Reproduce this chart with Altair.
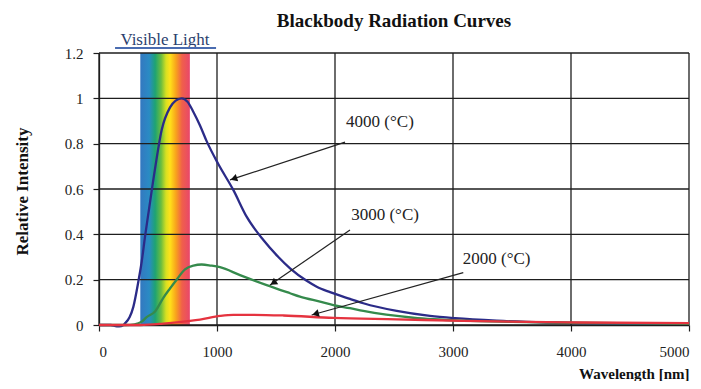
import math
import altair as alt
import pandas as pd

# ---- data ----
wl_4000 = [0, 100, 150, 190, 220, 260, 291, 333, 362, 390, 418, 475, 531, 602, 650, 701, 750, 800, 856, 913,
           1011, 1138, 1251, 1393, 1520, 1619, 1760, 1845, 1958, 2127, 2240, 2523, 2805, 3017, 3370, 3794, 4076,
           4500, 5000]
val_4000 = [0, 0, -0.006, -0.005, 0.007, 0.035, 0.08, 0.19, 0.28, 0.39, 0.49, 0.69, 0.86, 0.96, 0.99, 1.0, 0.985,
            0.94, 0.88, 0.81, 0.71, 0.596, 0.478, 0.375, 0.30, 0.25, 0.195, 0.169, 0.145, 0.115, 0.096, 0.062,
            0.04, 0.03, 0.019, 0.011, 0.008, 0.006, 0.005]

wl_3000 = [0, 220, 300, 362, 404, 475, 545, 600, 658, 729, 800, 870, 950, 1025, 1195, 1421, 1619, 1703, 1873,
           1986, 2127, 2240, 2663, 3087, 3500, 4000, 5000]
val_3000 = [0, 0, 0.003, 0.015, 0.035, 0.06, 0.12, 0.16, 0.2, 0.245, 0.262, 0.267, 0.262, 0.255, 0.22, 0.176,
            0.14, 0.125, 0.103, 0.088, 0.074, 0.062, 0.032, 0.019, 0.014, 0.01, 0.005]

wl_2000 = [0, 350, 545, 771, 856, 1025, 1138, 1300, 1562, 1986, 2523, 3087, 4076, 5000]
val_2000 = [0, 0, 0.006, 0.018, 0.024, 0.04, 0.045, 0.045, 0.042, 0.031, 0.025, 0.018, 0.011, 0.008]

series_names = ["4000 (°C)", "3000 (°C)", "2000 (°C)"]
series_colors = ["#2b2b88", "#358a4c", "#e5333f"]

# annotation: label position, arrow start, arrow end (data coords)
label_x = [2381, 2424, 3370]
label_y = [0.897, 0.485, 0.29]
arrow_x1 = [2085, 2127, 3087]
arrow_y1 = [0.807, 0.419, 0.231]
arrow_x2 = [1110, 1449, 1802]
arrow_y2 = [0.64, 0.176, 0.044]

visible_start, visible_end = 350, 770

x_ticks = [0, 1000, 2000, 3000, 4000, 5000]
y_ticks = [0, 0.2, 0.4, 0.6, 0.8, 1.0, 1.2]

W, H = 590, 272
XMAX, YMAX = 5000, 1.2
SERIF = "Liberation Serif"

# ---- tables ----
rows = []
for name, wls, vals in zip(series_names, [wl_4000, wl_3000, wl_2000], [val_4000, val_3000, val_2000]):
    for w, v in zip(wls, vals):
        rows.append({"series": name, "wl": w, "val": v})
curves = pd.DataFrame(rows)

px_x, px_y = W / XMAX, H / YMAX
ann_rows = []
for i, name in enumerate(series_names):
    dx = (arrow_x2[i] - arrow_x1[i]) * px_x
    dy = -(arrow_y2[i] - arrow_y1[i]) * px_y
    L = math.hypot(dx, dy)
    ux, uy = dx / L, dy / L
    ang = math.degrees(math.atan2(ux, -uy)) % 360
    back = 4.0
    hx = arrow_x2[i] - ux * back / px_x
    hy = arrow_y2[i] + uy * back / px_y
    ann_rows.append({"label": name, "lx": label_x[i], "ly": label_y[i],
                     "x1": arrow_x1[i], "y1": arrow_y1[i], "x2": arrow_x2[i], "y2": arrow_y2[i],
                     "hx": hx, "hy": hy, "ang": ang})
ann = pd.DataFrame(ann_rows)

xs = alt.Scale(domain=[0, XMAX], nice=False)
ys = alt.Scale(domain=[0, YMAX], nice=False)

spectrum = alt.Chart(pd.DataFrame({"a": [visible_start], "b": [visible_end], "y0": [0], "y1": [YMAX]})).mark_rect(
    color=alt.Gradient(
        gradient="linear",
        stops=[
            alt.GradientStop(color="#3478c0", offset=0.0),
            alt.GradientStop(color="#2a8bc4", offset=0.18),
            alt.GradientStop(color="#1ea373", offset=0.3),
            alt.GradientStop(color="#6bbd3f", offset=0.42),
            alt.GradientStop(color="#d8e021", offset=0.52),
            alt.GradientStop(color="#ffe11a", offset=0.6),
            alt.GradientStop(color="#f8a31c", offset=0.72),
            alt.GradientStop(color="#f0604a", offset=0.84),
            alt.GradientStop(color="#e8476b", offset=1.0),
        ],
        x1=0, x2=1, y1=0, y2=0,
    )
).encode(
    x=alt.X("a:Q", scale=xs), x2="b:Q",
    y=alt.Y("y0:Q", scale=ys), y2="y1:Q",
)

hgrid = alt.Chart(pd.DataFrame({"v": y_ticks})).mark_rule(color="#1e1e1e", strokeWidth=1.3).encode(
    y=alt.Y("v:Q", scale=ys)
)
vgrid = alt.Chart(pd.DataFrame({"v": x_ticks})).mark_rule(color="#1e1e1e", strokeWidth=1.3).encode(
    x=alt.X("v:Q", scale=xs)
)

axis_common = dict(labelFont=SERIF, labelFontSize=15, labelColor="#222222",
                   titleFont=SERIF, titleFontWeight="bold", titleColor="#111111",
                   domainColor="#1e1e1e", domainWidth=1.3, tickColor="#1e1e1e", tickWidth=1.2,
                   grid=False, tickSize=6)

lines = alt.Chart(curves).mark_line(strokeWidth=2.3, interpolate="monotone").encode(
    x=alt.X("wl:Q", scale=xs,
            axis=alt.Axis(values=x_ticks, format="d", labelPadding=13,
                          title="Wavelength [nm]", titleFontSize=15, titleX=W, titleY=48, titleAlign="right",
                          titleBaseline="middle", titleAnchor="end", **axis_common)),
    y=alt.Y("val:Q", scale=ys,
            axis=alt.Axis(values=y_ticks, format="~g", labelPadding=10,
                          title="Relative Intensity", titleFontSize=17, titleX=-77, titleY=138, titleAngle=-90,
                          titleAlign="center", titleBaseline="middle", **axis_common)),
    color=alt.Color("series:N", scale=alt.Scale(domain=series_names, range=series_colors), legend=None),
)

arrows = alt.Chart(ann).mark_rule(color="#222222", strokeWidth=1.2).encode(
    x="x1:Q", y="y1:Q", x2="x2:Q", y2="y2:Q"
)
heads = alt.Chart(ann).mark_point(shape="triangle-up", filled=True, size=60, color="#111111", opacity=1).encode(
    x="hx:Q", y="hy:Q", angle=alt.Angle("ang:Q", scale=None)
)
labels = alt.Chart(ann).mark_text(font=SERIF, fontSize=17, color="#222222").encode(
    x="lx:Q", y="ly:Q", text="label:N"
)

vis_df = pd.DataFrame({"x": [559], "y": [1.236], "t": ["Visible  Light"], "u1": [136], "u2": [992], "uy": [1.222]})
vis_text = alt.Chart(vis_df).mark_text(font=SERIF, fontSize=17, color="#2b3f6e", baseline="alphabetic").encode(
    x="x:Q", y="y:Q", text="t:N"
)
vis_line = alt.Chart(vis_df).mark_rule(color="#4a6cb0", strokeWidth=2).encode(
    x="u1:Q", x2="u2:Q", y="uy:Q"
)

chart = alt.layer(spectrum, hgrid, vgrid, lines, arrows, heads, labels, vis_text, vis_line).properties(
    width=W, height=H,
    title=alt.TitleParams("Blackbody Radiation Curves", font=SERIF, fontSize=19, fontWeight="bold",
                          color="#111111", offset=2, dy=2, anchor="middle"),
    autosize=alt.AutoSizeParams(type="none"),
    padding={"left": 91, "top": 45, "right": 4, "bottom": 56},
).configure_view(strokeWidth=0)

chart.save("out.html", embed_options={"renderer": "svg", "actions": False})
